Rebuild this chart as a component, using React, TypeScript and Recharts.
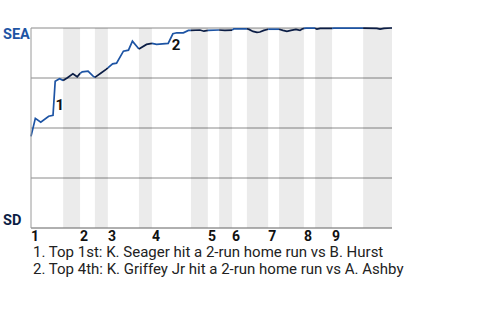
import React from "react";
import {
  LineChart,
  Line,
  XAxis,
  YAxis,
  CartesianGrid,
  ReferenceArea,
  ReferenceDot,
} from "recharts";

// game progress (% of plays) at the start of each half inning, plus the end
const halfInningStarts = [0, 8.9, 13.6, 17.7, 21.3, 29.9, 33.5, 44.3, 49.0, 52.1, 55.7, 59.8, 65.7, 68.7, 75.6, 78.7, 83.4, 92.0, 100];
const innings = ["1", "2", "3", "4", "5", "6", "7", "8", "9"];

// win probability for SEA, one entry per play
const playPos = [
  0, 1.2, 2.7, 4.9, 6.1, 6.7, 7.9, 8.9, 10.1, 11.6, 12.8, 13.6, 14.2, 15.8, 17.2, 17.7,
  19.5, 20.8, 21.3, 22.6, 23.7, 25.6, 27.0, 28.1, 29.9, 32.0, 33.5, 34.8, 38.0, 39.3,
  40.4, 42.2, 43.6, 44.3, 46.8, 47.9, 49.0, 52.1, 53.7, 55.7, 56.2, 59.8, 60.4, 61.5,
  62.6, 63.4, 64.5, 65.7, 68.7, 69.8, 70.9, 72.0, 73.4, 74.5, 75.1, 75.6, 76.2, 78.7,
  79.2, 80.1, 83.4, 83.9, 92.0, 95.8, 96.7, 97.8, 99.7, 100,
];
const seaWinPct = [
  45.8, 54.8, 52.9, 55.9, 56.3, 73.4, 74.6, 73.8, 75.1, 77.1, 75.6, 77.3, 78.1, 78.4, 75.9, 75.3,
  77.6, 79.3, 80.1, 82.1, 82.4, 88.4, 88.9, 93.4, 89.5, 91.8, 92.3, 91.8, 92.3, 97.1,
  97.6, 97.6, 98.8, 98.8, 99.0, 98.4, 98.8, 99.0, 98.8, 98.9, 99.6, 99.6, 99.3, 98.3,
  97.8, 98.0, 98.8, 99.4, 99.4, 98.8, 98.3, 98.8, 99.3, 98.8, 99.5, 99.8, 99.9, 99.9,
  99.4, 99.8, 99.8, 99.9, 99.9, 99.8, 99.4, 99.8, 100, 100,
];

const notes = [
  { label: "1", x: 8.0, y: 61.8, text: "Top 1st: K. Seager hit a 2-run home run vs B. Hurst" },
  { label: "2", x: 40.2, y: 91.6, text: "Top 4th: K. Griffey Jr hit a 2-run home run vs A. Ashby" },
];

const SEA_BLUE = "#1d54a4";
const SD_NAVY = "#0b1d45";
const FONT = "Roboto, sans-serif";

const points = playPos.map((x, i) => ({ x, p: seaWinPct[i] }));
const halves = halfInningStarts.slice(0, -1).map((start, i) => {
  const end = halfInningStarts[i + 1];
  return {
    start,
    end,
    bottom: i % 2 === 1,
    data: points.filter((d) => d.x >= start && d.x <= end),
  };
});
const inningTicks = halfInningStarts.filter((_, i) => i % 2 === 0).slice(0, 9);

const YTick = (props: any) => {
  const v = props.payload?.value;
  if (v !== 100 && v !== 0) return <g />;
  return (
    <text
      x={3}
      y={props.y + (v === 100 ? 10.5 : -3.5)}
      fill={v === 100 ? SEA_BLUE : SD_NAVY}
      fontSize={14.5}
      fontWeight={700}
      fontFamily={FONT}
      textAnchor="start"
    >
      {v === 100 ? "SEA" : "SD"}
    </text>
  );
};

const XTick = (props: any) => {
  const i = inningTicks.indexOf(props.payload?.value);
  return (
    <text x={props.x} y={props.y + 5} fill="#111" fontSize={14} fontWeight={700} fontFamily={FONT} textAnchor="start">
      {innings[i]}
    </text>
  );
};

export default function App() {
  return (
    <div style={{ position: "absolute", left: 0, top: 0, width: 480, height: 320, fontFamily: FONT, background: "#fff" }}>
      <LineChart width={480} height={250} margin={{ top: 28, right: 88, bottom: 2, left: 0 }}>
        <XAxis
          type="number"
          dataKey="x"
          domain={[0, 100]}
          ticks={inningTicks}
          interval={0}
          tick={XTick}
          tickLine={false}
          axisLine={{ stroke: "#9a9a9a" }}
          height={20}
        />
        <YAxis
          type="number"
          domain={[0, 100]}
          ticks={[0, 25, 50, 75, 100]}
          interval={0}
          tick={YTick}
          tickLine={false}
          axisLine={{ stroke: "#9a9a9a" }}
          width={31}
        />
        <CartesianGrid vertical={false} stroke="#8a8a8a" />
        {halves
          .filter((h) => h.bottom)
          .map((h, i) => (
            <ReferenceArea key={"band" + i} x1={h.start} x2={h.end} y1={0} y2={100} fill="#000" fillOpacity={0.08} stroke="none" />
          ))}
        {halves.map((h, i) => (
          <Line
            key={"half" + i}
            data={h.data}
            dataKey="p"
            type="linear"
            stroke={h.bottom ? SD_NAVY : SEA_BLUE}
            strokeWidth={1.7}
            dot={false}
            activeDot={false}
            isAnimationActive={false}
          />
        ))}
        {notes.map((n) => (
          <ReferenceDot
            key={n.label}
            x={n.x}
            y={n.y}
            r={0}
            fill="none"
            stroke="none"
            label={{ value: n.label, position: "center", fontSize: 15, fontWeight: 700, fill: "#111", fontFamily: FONT }}
          />
        ))}
      </LineChart>
      <div style={{ position: "absolute", left: 33, top: 246, fontSize: 15, color: "#222" }}>
        {notes.map((n, i) => (
          <div key={n.label} style={{ lineHeight: "12px", marginTop: i ? 5 : 0 }}>
            {n.label}. {n.text}
          </div>
        ))}
      </div>
    </div>
  );
}
